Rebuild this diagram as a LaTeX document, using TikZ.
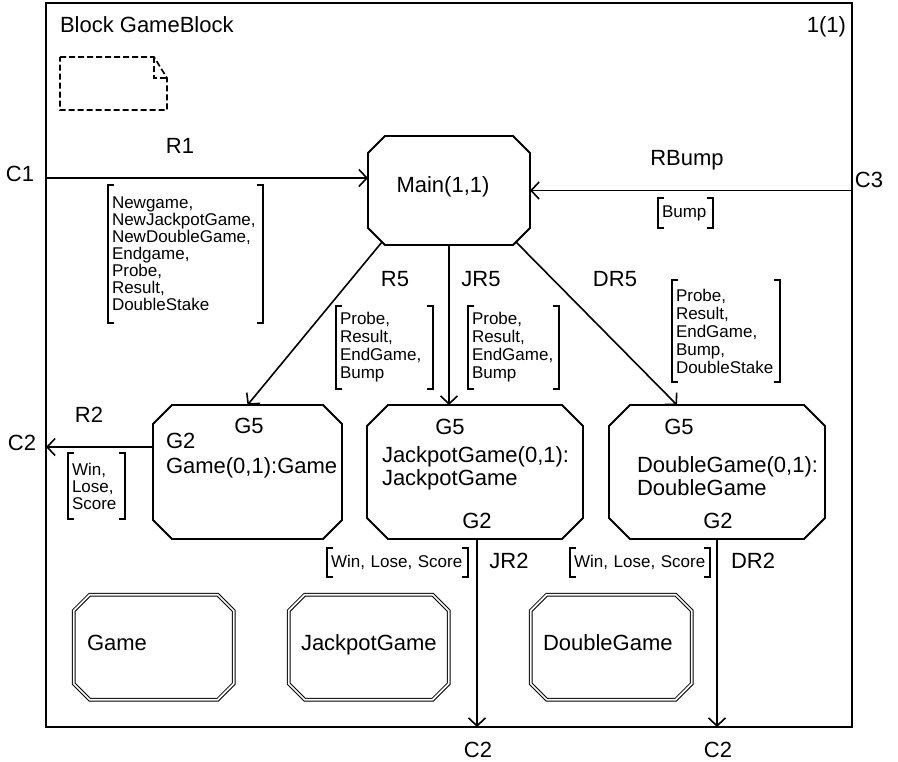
\documentclass[tikz,border=0pt]{standalone}
\usepackage{fontspec}
\setmainfont{Liberation Sans}
\usetikzlibrary{arrows.meta}

\newcommand\bigtext{\fontsize{22}{23}\selectfont}
\newcommand\smalltext{\fontsize{17}{18}\selectfont}
\newcommand\tighttext{\fontsize{17}{17}\selectfont}

% octagonal outline around a (rectangular) node: [style]{node}{chamfer}
\newcommand\octagon[3][blockline]{%
  \draw[#1] ([xshift=#3]#2.north west) -- ([xshift=-#3]#2.north east)
    -- ([yshift=-#3]#2.north east) -- ([yshift=#3]#2.south east)
    -- ([xshift=-#3]#2.south east) -- ([xshift=#3]#2.south west)
    -- ([yshift=#3]#2.south west) -- ([yshift=-#3]#2.north west) -- cycle;}

% square brackets on both sides of a signal list node
\newcommand\sigbrackets[1]{%
  \draw[brk] ([xshift=6pt]#1.north west) -| (#1.south west) -- ([xshift=6pt]#1.south west);
  \draw[brk] ([xshift=-6pt]#1.north east) -| (#1.south east) -- ([xshift=-6pt]#1.south east);}

\tikzset{
  every node/.style={inner sep=0pt, outer sep=0pt},
  lbl/.style={font=\bigtext, anchor=base},
  frame/.style={draw, line width=2.2pt, anchor=north west},
  area/.style 2 args={minimum width=#1, minimum height=#2, anchor=north west},
  blockline/.style={line width=1.8pt},
  typeline/.style={line width=1pt, double, double distance=1.7pt},
  docline/.style={line width=1.7pt, dash pattern=on 6pt off 3pt},
  brk/.style={line width=1.8pt},
  sig/.style={line width=1.6pt, -{Straight Barb[length=8pt,width=17pt]}},
  siglist/.style 2 args={font=\smalltext, align=left, anchor=north west,
    inner xsep=4pt, text width=#1, minimum height=#2},
}

\begin{document}
\begin{tikzpicture}[x=1pt, y=-1pt]
  \useasboundingbox[fill=white] (0,0) rectangle (898,762);

  % block frame and heading
  \node[frame, minimum width=806pt, minimum height=724pt] (frame) at (46,3) {};
  \node[lbl, anchor=base west] (title) at (60,33) {Block GameBlock};
  \node[lbl, anchor=base east] (page) at (846,33) {1(1)};

  % package reference symbol
  \draw[docline] (60,57) -- (154,57) -- (167,78) -- (167,110) -- (60,110) -- cycle;
  \draw[docline] (154,57) -- (154,78) -- (167,78);

  % processes
  \node[area={162pt}{109pt}] (main) at (368,136) {};
  \octagon{main}{17pt}
  \node[lbl] (mainname) at (443,193) {Main(1,1)};

  \node[area={189pt}{134pt}] (game) at (153,405) {};
  \octagon{game}{19pt}
  \node[lbl] (gameG5) at (249,433) {G5};
  \node[lbl, anchor=base west] (gameG2) at (166,449) {G2};
  \node[lbl, anchor=base west] (gamename) at (166,473) {Game(0,1):Game};

  \node[area={216pt}{134pt}] (jack) at (367,405) {};
  \octagon{jack}{21pt}
  \node[lbl] (jackG5) at (450,435) {G5};
  \node[lbl, anchor=base west] (jackname) at (382,462) {JackpotGame(0,1):};
  \node[lbl, anchor=base west] (jacktype) at (382,485) {JackpotGame};
  \node[lbl] (jackG2) at (477,528) {G2};

  \node[area={216pt}{134pt}] (dbl) at (609,405) {};
  \octagon{dbl}{21pt}
  \node[lbl] (dblG5) at (679,435) {G5};
  \node[lbl, anchor=base west] (dblname) at (637,472) {DoubleGame(0,1):};
  \node[lbl, anchor=base west] (dbltype) at (637,495) {DoubleGame};
  \node[lbl] (dblG2) at (718,528) {G2};

  % process types
  \node[area={160pt}{105pt}] (tgame) at (73.7,594.7) {};
  \octagon[typeline]{tgame}{16pt}
  \node[lbl, anchor=base west] (tgamename) at (87,650) {Game};

  \node[area={160pt}{105pt}] (tjack) at (288.7,594.7) {};
  \octagon[typeline]{tjack}{16pt}
  \node[lbl, anchor=base west] (tjackname) at (301,650) {JackpotGame};

  \node[area={161pt}{105pt}] (tdbl) at (530.7,594.7) {};
  \octagon[typeline]{tdbl}{16pt}
  \node[lbl, anchor=base west] (tdblname) at (543,650) {DoubleGame};

  % signal routes
  \coordinate (r1in) at ([yshift=12.5pt]main.west);
  \draw[sig] (r1in -| frame.west) -- (r1in);
  \draw[sig] (main.east -| frame.east) -- (main.east);
  \draw[sig] ([xshift=14pt,yshift=3pt]main.south west) -- (game.north);
  \draw[sig] (main.south) -- (main.south |- jack.north);
  \draw[sig] ([xshift=-14pt,yshift=3pt]main.south east) -- ([xshift=-40pt]dbl.north);
  \coordinate (r2out) at ([yshift=25pt]game.west);
  \draw[sig] (r2out) -- (r2out -| frame.west);
  \coordinate (jr2out) at ([xshift=2pt]jack.south);
  \draw[sig] (jr2out) -- (jr2out |- frame.south);
  \draw[sig] (dbl.south) -- (dbl.south |- frame.south);

  % channel and route names
  \node[lbl] (c1) at (20,182) {C1};
  \node[lbl] (c3) at (869,188) {C3};
  \node[lbl] (c2left) at (22,450) {C2};
  \node[lbl] (c2jack) at (478,757) {C2};
  \node[lbl] (c2dbl) at (718,757) {C2};
  \node[lbl] (r1) at (180,154) {R1};
  \node[lbl] (rbump) at (687,166) {RBump};
  \node[lbl] (r5) at (395,287) {R5};
  \node[lbl] (jr5) at (481,287) {JR5};
  \node[lbl] (dr5) at (615,287) {DR5};
  \node[lbl] (r2) at (89,422) {R2};
  \node[lbl] (jr2) at (509,568) {JR2};
  \node[lbl] (dr2) at (753,568) {DR2};

  % signal lists
  \node[siglist={147pt}{138pt}, font=\tighttext] (s1) at (108,185)
    {Newgame,\\NewJackpotGame,\\NewDoubleGame,\\Endgame,\\Probe,\\Result,\\DoubleStake};
  \sigbrackets{s1}
  \node[siglist={47pt}{30pt}] (sbump) at (658,198) {Bump};
  \sigbrackets{sbump}
  \node[siglist={89pt}{83pt}] (s5) at (336,306) {Probe,\\Result,\\EndGame,\\Bump};
  \sigbrackets{s5}
  \node[siglist={83pt}{83pt}] (sj5) at (468,306) {Probe,\\Result,\\EndGame,\\Bump};
  \sigbrackets{sj5}
  \node[siglist={100pt}{102pt}] (sd5) at (672,280) {Probe,\\Result,\\EndGame,\\Bump,\\DoubleStake};
  \sigbrackets{sd5}
  \node[siglist={49pt}{66pt}, font=\tighttext] (s2) at (68,453) {Win,\\Lose,\\Score};
  \sigbrackets{s2}
  \node[siglist={133pt}{29pt}] (sj2) at (327,548) {Win, Lose, Score};
  \sigbrackets{sj2}
  \node[siglist={132pt}{29pt}] (sd2) at (570,548) {Win, Lose, Score};
  \sigbrackets{sd2}
\end{tikzpicture}
\end{document}
